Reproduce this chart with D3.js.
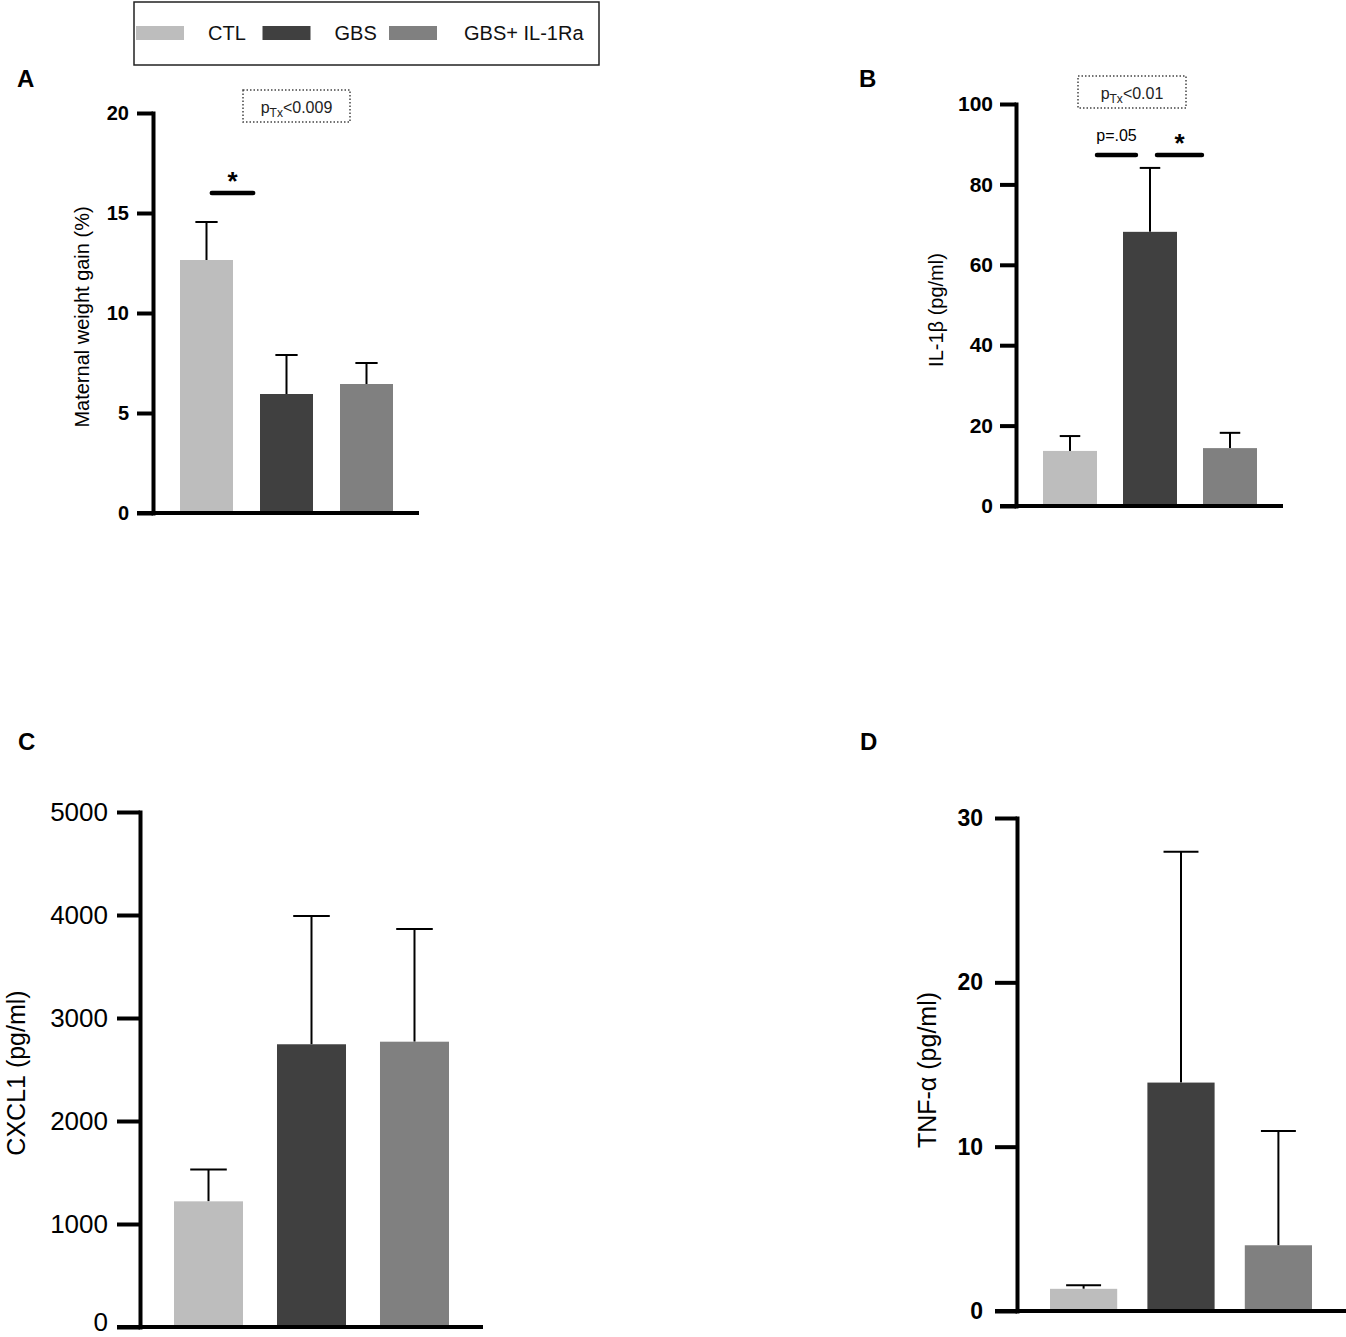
<!DOCTYPE html>
<html>
<head>
<meta charset="utf-8">
<script src="https://cdn.jsdelivr.net/npm/d3@7"></script>
<style>
body { margin:0; background:#fff; }
svg { font-family: Arial, "Liberation Sans", sans-serif; }
</style>
</head>
<body>
<svg id="fig" width="1346" height="1337"></svg>
<script>
////////////////////////////////////////////////////
// data (mean, upper SEM)
var groups = ["CTL", "GBS", "GBS+ IL-1Ra"];
var groupColors = ["#bdbdbd", "#404040", "#808080"];

var weightMean = [12.65, 5.95, 6.45];
var weightSem = [1.9, 1.95, 1.05];
var weightTicks = [0, 5, 10, 15, 20];

var il1bMean = [13.7, 68.2, 14.4];
var il1bSem = [3.7, 15.9, 3.8];
var il1bTicks = [0, 20, 40, 60, 80, 100];

var cxcl1Mean = [1220, 2745, 2770];
var cxcl1Sem = [310, 1245, 1095];
var cxcl1Ticks = [0, 1000, 2000, 3000, 4000, 5000];

var tnfMean = [1.35, 13.9, 4.0];
var tnfSem = [0.22, 14.05, 6.95];
var tnfTicks = [0, 10, 20, 30];

////////////////////////////////////////////////////
var svg = d3.select("#fig");

/////////// LEGEND
var legend = svg.append("g");
legend.append("rect")
	.attr("x", 134).attr("y", 2)
	.attr("width", 465).attr("height", 63)
	.attr("fill", "none").attr("stroke", "#222").attr("stroke-width", 1.5);
var items = legend.selectAll("g.item")
	.data(groups)
	.enter().append("g")
		.attr("transform", function(d,i){ return "translate(" + (136 + i*126.5) + ",0)"; });
items.append("rect")
	.attr("y", 26).attr("width", 48).attr("height", 14)
	.attr("fill", function(d,i){ return groupColors[i]; });
items.append("text")
	.attr("x", function(d,i){ return i == 2 ? 75 : 72; })
	.attr("y", 40)
	.attr("font-size", 20)
	.attr("fill", "#111")
	.text(function(d){ return d; });

/////////// PANELS
function drawPanel(p) {
	var g = svg.append("g");
	var x = d3.scaleBand().domain(groups).range(p.band).paddingInner(p.pad).paddingOuter(0);
	var y = d3.scaleLinear().domain([0, d3.max(p.ticks)]).range([p.y0, p.y1]);
	var bw = x.bandwidth();
	var rows = groups.map(function(d,i){ return {g: d, c: groupColors[i], m: p.mean[i], e: p.sem[i]}; });

	// error bars first, bars over them
	var cap = bw*p.cap/2;
	var err = g.selectAll("g.err").data(rows).enter().append("g")
		.attr("stroke", "#000").attr("stroke-width", 2);
	err.append("line")
		.attr("x1", function(d){ return x(d.g)+bw/2; })
		.attr("x2", function(d){ return x(d.g)+bw/2; })
		.attr("y1", function(d){ return y(d.m); })
		.attr("y2", function(d){ return y(d.m+d.e); });
	err.append("line")
		.attr("x1", function(d){ return x(d.g)+bw/2-cap; })
		.attr("x2", function(d){ return x(d.g)+bw/2+cap; })
		.attr("y1", function(d){ return y(d.m+d.e); })
		.attr("y2", function(d){ return y(d.m+d.e); });

	g.selectAll("rect.bar").data(rows).enter().append("rect")
		.attr("class", "bar")
		.attr("x", function(d){ return x(d.g); })
		.attr("y", function(d){ return y(d.m); })
		.attr("width", bw)
		.attr("height", function(d){ return y(0)-y(d.m); })
		.attr("fill", function(d){ return d.c; });

	// y axis
	var ax = g.append("g")
		.attr("transform", "translate(" + p.axisX + ",0)")
		.call(d3.axisLeft(y).tickValues(p.ticks).tickFormat(d3.format("d"))
			.tickSize(p.tickLen).tickSizeOuter(0).tickPadding(p.tickPad));
	ax.select(".domain").attr("stroke-width", 4).attr("stroke-linecap", "square");
	ax.selectAll(".tick line").attr("stroke-width", 4);
	ax.selectAll(".tick text")
		.attr("font-size", p.tickFont)
		.attr("font-weight", p.tickBold ? "bold" : "normal")
		.attr("font-family", "Arial, 'Liberation Sans', sans-serif")
		.attr("fill", "#000");
	// keep the bottom label inside the page
	if (p.zeroDy) ax.selectAll(".tick text").filter(function(d){ return d == 0; }).attr("dy", p.zeroDy);

	// x axis line
	g.append("line")
		.attr("x1", p.axisX-p.tickLen).attr("x2", p.xEnd)
		.attr("y1", y(0)).attr("y2", y(0))
		.attr("stroke", "#000").attr("stroke-width", 4);

	// axis title
	g.append("text")
		.attr("transform", "translate(" + p.titleX + "," + p.titleY + ") rotate(-90)")
		.attr("text-anchor", "middle")
		.attr("font-size", p.titleFont)
		.text(p.title);

	// panel letter
	g.append("text")
		.attr("x", p.letterX).attr("y", p.letterY)
		.attr("font-size", 24).attr("font-weight", "bold")
		.text(p.letter);

	// treatment p box
	if (p.ptx) {
		g.append("rect")
			.attr("x", p.ptx.x).attr("y", p.ptx.y).attr("width", p.ptx.w).attr("height", 32)
			.attr("fill", "none").attr("stroke", "#444").attr("stroke-width", 1.5)
			.attr("stroke-dasharray", "1.5,2");
		var t = g.append("text")
			.attr("x", p.ptx.x + p.ptx.w/2).attr("y", p.ptx.y + 23)
			.attr("text-anchor", "middle").attr("font-size", 16).attr("fill", "#222");
		t.append("tspan").text("p");
		t.append("tspan").attr("font-size", 12).attr("dy", 4).text("Tx");
		t.append("tspan").attr("dy", -4).text(p.ptx.label);
	}

	// significance bars
	(p.sig || []).forEach(function(s) {
		var x1 = x(s.from) + s.f1*bw, x2 = x(s.to) + s.f2*bw;
		g.append("line")
			.attr("x1", x1).attr("x2", x2)
			.attr("y1", y(s.at)).attr("y2", y(s.at))
			.attr("stroke", "#000").attr("stroke-width", 4.5).attr("stroke-linecap", "round");
		g.append("text")
			.attr("x", (x1+x2)/2).attr("y", y(s.at) - s.dy)
			.attr("text-anchor", "middle")
			.attr("font-size", s.label == "*" ? 26 : 16)
			.attr("font-weight", s.label == "*" ? "bold" : "normal")
			.text(s.label);
	});
}

drawPanel({
	mean: weightMean, sem: weightSem, ticks: weightTicks,
	band: [180, 393], pad: 0.3375, y0: 513, y1: 113,
	axisX: 153, tickLen: 16, tickPad: 8, tickFont: 20, tickBold: true, xEnd: 419,
	title: "Maternal weight gain (%)", titleX: 89, titleY: 317, titleFont: 20,
	letter: "A", letterX: 17, letterY: 87, cap: 0.42,
	ptx: {x: 243, y: 90, w: 107, label: "<0.009"},
	sig: [{from: "CTL", to: "GBS", f1: 0.6, f2: -0.13, at: 16, label: "*", dy: 3}]
});
drawPanel({
	mean: il1bMean, sem: il1bSem, ticks: il1bTicks,
	band: [1043, 1257], pad: 0.325, y0: 506, y1: 104,
	axisX: 1016, tickLen: 16, tickPad: 7, tickFont: 21, tickBold: true, xEnd: 1283,
	title: "IL-1\u03b2 (pg/ml)", titleX: 943, titleY: 310, titleFont: 20,
	letter: "B", letterX: 859, letterY: 87, cap: 0.38,
	ptx: {x: 1078, y: 76, w: 108, label: "<0.01"},
	sig: [{from: "CTL", to: "GBS", f1: 1.0, f2: 0.24, at: 87.3, label: "p=.05", dy: 14},
		{from: "GBS", to: "GBS+ IL-1Ra", f1: 0.63, f2: -0.02, at: 87.3, label: "*", dy: 3}]
});
drawPanel({
	mean: cxcl1Mean, sem: cxcl1Sem, ticks: cxcl1Ticks,
	band: [174, 449], pad: 0.33, y0: 1327, y1: 812,
	axisX: 140, tickLen: 23, tickPad: 9, tickFont: 26, tickBold: false, xEnd: 483,
	title: "CXCL1 (pg/ml)", titleX: 25, titleY: 1073, titleFont: 25,
	letter: "C", letterX: 18, letterY: 750, cap: 0.53, zeroDy: "0.12em"
});
drawPanel({
	mean: tnfMean, sem: tnfSem, ticks: tnfTicks,
	band: [1050, 1312], pad: 0.31, y0: 1311, y1: 818,
	axisX: 1017, tickLen: 22, tickPad: 12, tickFont: 23, tickBold: true, xEnd: 1346,
	title: "TNF-\u03b1 (pg/ml)", titleX: 936, titleY: 1070, titleFont: 25,
	letter: "D", letterX: 860, letterY: 750, cap: 0.52
});
////////////////////////////////////////////////////
</script>
</body>
</html>
